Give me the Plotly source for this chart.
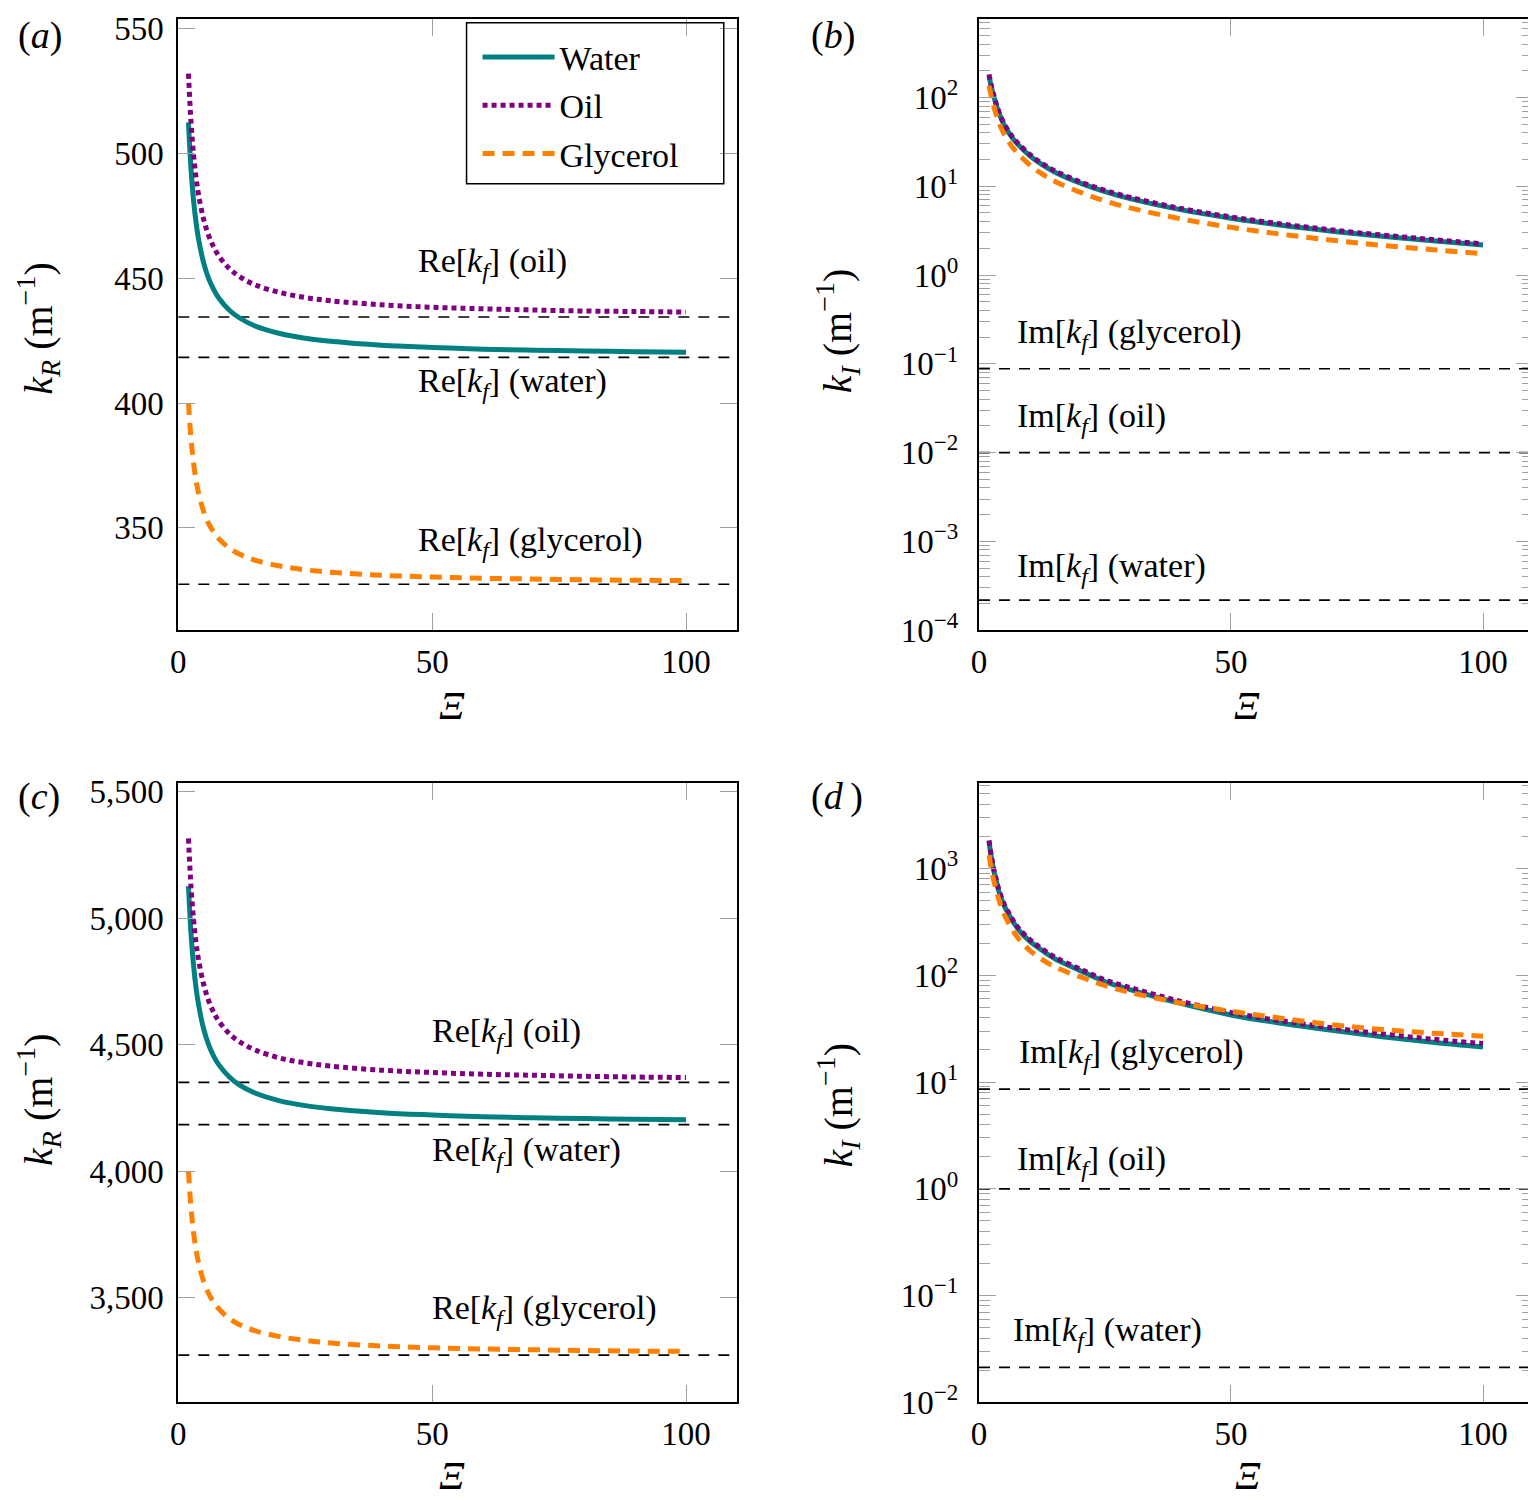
import plotly.graph_objects as go
from plotly.subplots import make_subplots

W, H = 1536, 1501

xi = [2, 2.5, 3, 3.5, 4, 5, 6, 7, 8, 10, 12, 15, 20, 25, 30, 40, 50, 60, 70, 80, 90, 100]

# (a) k_R, lower frequency
kr_water_a = [512.5, 493.7, 481.2, 472.2, 465.5, 456.1, 449.8, 445.4, 442.0, 437.3, 434.2,
              431.0, 427.9, 426.0, 424.8, 423.2, 422.3, 421.6, 421.2, 420.9, 420.6, 420.4]
kr_oil_a = [532.0, 512.5, 499.5, 490.2, 483.3, 473.5, 467.0, 462.4, 458.9, 454.0, 450.8,
            447.5, 444.3, 442.3, 441.0, 439.4, 438.4, 437.8, 437.3, 436.9, 436.7, 436.5]
kr_gly_a = [400.1, 385.6, 375.9, 369.0, 363.8, 356.5, 351.6, 348.2, 345.6, 341.9, 339.5,
            337.1, 334.7, 333.2, 332.2, 331.0, 330.3, 329.8, 329.5, 329.2, 329.0, 328.9]

# (b) k_I, lower frequency
ki_water_b = [175, 128, 100, 80, 66, 49, 39.5, 33, 28.5, 22.3, 18.3,
              14.5, 10.9, 8.7, 7.25, 5.45, 4.37, 3.64, 3.12, 2.73, 2.43, 2.18]
ki_oil_b = [182, 132, 103, 82.5, 68, 50.5, 40.7, 34, 29.4, 23, 18.9,
            15, 11.25, 9.0, 7.5, 5.63, 4.51, 3.76, 3.22, 2.82, 2.51, 2.25]
ki_gly_b = [136, 99, 77, 62, 51, 38.5, 31, 26, 22.5, 17.5, 14.4,
            11.4, 8.6, 6.85, 5.7, 4.3, 3.45, 2.88, 2.47, 2.16, 1.93, 1.74]

# (c) k_R, higher frequency
kr_water_c = [5128, 4939, 4814, 4724, 4657, 4562, 4499, 4454, 4421, 4374, 4342,
              4311, 4279, 4260, 4248, 4232, 4223, 4216, 4212, 4209, 4206, 4204]
kr_oil_c = [5316, 5123, 4995, 4903, 4834, 4738, 4673, 4627, 4593, 4545, 4513,
            4481, 4448, 4429, 4416, 4400, 4391, 4384, 4380, 4376, 4373, 4371]
kr_gly_c = [4000, 3855, 3758, 3689, 3637, 3564, 3516, 3481, 3456, 3419, 3395,
            3371, 3347, 3332, 3322, 3310, 3303, 3298, 3295, 3292, 3290, 3289]

# (d) k_I, higher frequency
ki_water_d = [1775, 1230, 930, 740, 600, 450, 365, 305, 262, 210, 178,
              143, 111, 87, 73.5, 54.5, 42.5, 35.5, 30.5, 26.6, 23.6, 21.3]
ki_oil_d = [1830, 1270, 960, 765, 620, 465, 377, 315, 271, 218, 184,
            148, 115, 90.5, 76.5, 57, 44.7, 37.4, 32.2, 28.2, 25.2, 22.9]
ki_gly_d = [1330, 960, 750, 610, 500, 372, 300, 250, 216, 172, 146,
            120, 97, 80, 69, 55, 46, 39.6, 34.5, 31.0, 28.7, 26.8]

# k_f of each fluid (water, oil, glycerol)
re_kf_a = [418.3, 434.5, 327.4]
im_kf_b = [2.18e-4, 0.01, 0.088]
re_kf_c = [4185, 4352, 3274]
im_kf_d = [0.0213, 1.0, 8.6]

fluids = ["Water", "Oil", "Glycerol"]
tags = ["water", "oil", "glycerol"]
colors = ["#008080", "#800080", "#ff8000"]
dashes = ["solid", "5px,4px", "12px,8px"]

FONT = "Liberation Serif"
TICKGRAY = "#a0a0a0"

# the photographed page comes out shifted and slightly shrunk,
# so pixel targets are mapped back through that
AX, BX = 0.994, 14.8
AY, BY = 0.983, 15.2


def px_x(p):
    return (p - BX) / AX / W


def px_y(p):
    return 1 - (p - BY) / AY / H


fig = make_subplots(rows=2, cols=2)

panels = [
    (1, 1, [kr_water_a, kr_oil_a, kr_gly_a]),
    (1, 2, [ki_water_b, ki_oil_b, ki_gly_b]),
    (2, 1, [kr_water_c, kr_oil_c, kr_gly_c]),
    (2, 2, [ki_water_d, ki_oil_d, ki_gly_d]),
]
for row, col, series in panels:
    for i, ys in enumerate(series):
        fig.add_trace(go.Scatter(
            x=xi, y=ys, mode="lines", name=fluids[i],
            line=dict(color=colors[i], width=5, dash=dashes[i], shape="spline"),
            showlegend=(row == 1 and col == 1), legendgroup=fluids[i]),
            row=row, col=col)

hl = dict(color="black", width=1.7, dash="11px,9px")
for row, col, vals in [(1, 1, re_kf_a), (1, 2, im_kf_b), (2, 1, re_kf_c), (2, 2, im_kf_d)]:
    for v in vals:
        fig.add_hline(y=v, row=row, col=col, line=hl, layer="below")

xdom = {1: [px_x(177), px_x(735)], 2: [px_x(977), px_x(1531)]}
ydom = {1: [px_y(630), px_y(18)], 2: [px_y(1403), px_y(783)]}

tickfont = dict(family=FONT, size=33, color="black")
for row in (1, 2):
    for col in (1, 2):
        fig.update_xaxes(domain=xdom[col], range=[0, 110], tickvals=[0, 50, 100],
                         ticks="inside", ticklen=17, tickcolor=TICKGRAY, tickwidth=1,
                         showline=True, linecolor="black", linewidth=2, mirror="ticks",
                         showgrid=False, zeroline=False, tickfont=tickfont,
                         ticklabelstandoff=1, ticklabeloverflow="allow", row=row, col=col)
        fig.update_yaxes(domain=ydom[row], ticks="inside", ticklen=17, tickcolor=TICKGRAY,
                         tickwidth=1, showline=True, linecolor="black", linewidth=2,
                         mirror="ticks", showgrid=False, zeroline=False, tickfont=tickfont,
                         ticklabelstandoff=6, ticklabeloverflow="allow", row=row, col=col)

fig.update_yaxes(range=[309, 554], tickvals=[350, 400, 450, 500, 550], row=1, col=1)
fig.update_yaxes(range=[3087, 5535], tickvals=[3500, 4000, 4500, 5000, 5500],
                 tickformat=",d", row=2, col=1)


def log_labels(lo, hi):
    vals = [10.0 ** e for e in range(lo, hi + 1)]
    text = ["10<sup>%s</sup>" % (str(e).replace("-", "\u2212")) for e in range(lo, hi + 1)]
    minor = [m * 10.0 ** e for e in range(lo, hi + 1) for m in range(2, 10)]
    return vals, text, minor


for row, lo, hi, rng in [(1, -4, 2, [-4, 2.886]), (2, -2, 3, [-2, 3.8])]:
    vals, text, minor = log_labels(lo, hi)
    fig.update_yaxes(type="log", range=rng, tickvals=vals, ticktext=text,
                     ticklabelstandoff=12,
                     minor=dict(tickmode="array", tickvals=minor, ticks="inside",
                                ticklen=11, tickcolor=TICKGRAY, tickwidth=1),
                     row=row, col=2)

annots = []


def add_text(text, x, y, xanchor="left", size=34, angle=0):
    annots.append(dict(text=text, x=px_x(x), y=px_y(y), xref="paper", yref="paper",
                       xanchor=xanchor, yanchor="middle", showarrow=False, textangle=angle,
                       font=dict(family=FONT, size=size, color="black")))


kf = "[<i>k</i><sub><i>f</i></sub>]"
for tag, y in zip(tags, [383, 262, 542]):
    add_text("Re" + kf + " (" + tag + ")", 414, y)
for tag, y in zip(tags, [1152, 1033, 1311]):
    add_text("Re" + kf + " (" + tag + ")", 428, y)
for tag, x, y in zip(tags, [1013, 1013, 1013], [568, 418, 334]):
    add_text("Im" + kf + " (" + tag + ")", x, y)
for tag, x, y in zip(tags, [1009, 1013, 1015], [1333, 1161, 1054]):
    add_text("Im" + kf + " (" + tag + ")", x, y)

add_text("(<i>a</i>)", 15, 35, size=38)
add_text("(<i>b</i>)", 807, 35, size=38)
add_text("(<i>c</i>)", 15, 796, size=38)
add_text("(<i>d</i>\u2009)", 807, 796, size=38)

kr_title = "<i>k</i><sub><i>R</i></sub> (m<sup>\u22121</sup>)"
ki_title = "<i>k</i><sub><i>I</i></sub> (m<sup>\u22121</sup>)"
add_text(kr_title, 37, 328, xanchor="center", size=40, angle=-90)
add_text(ki_title, 836, 330, xanchor="center", size=40, angle=-90)
add_text(kr_title, 37, 1100, xanchor="center", size=40, angle=-90)
add_text(ki_title, 836, 1105, xanchor="center", size=40, angle=-90)

for x, y in [(450, 705), (1245, 705), (450, 1476), (1246, 1476)]:
    add_text("<i>\u039e</i>", x, y, xanchor="center", size=40)

fig.add_shape(type="rect", xref="paper", yref="paper",
              x0=px_x(465), x1=px_x(722), y0=px_y(183), y1=px_y(22),
              line=dict(color="black", width=1.5), fillcolor="rgba(0,0,0,0)")

fig.update_layout(
    width=W, height=H,
    margin=dict(l=0, r=0, t=0, b=0),
    paper_bgcolor="white", plot_bgcolor="white",
    font=dict(family=FONT, color="black"),
    annotations=annots,
    legend=dict(x=px_x(476), y=px_y(27.6), xanchor="left", yanchor="top",
                font=dict(family=FONT, size=34, color="black"),
                bgcolor="rgba(0,0,0,0)", borderwidth=0,
                itemwidth=72, tracegroupgap=1),
)

fig.write_html("out.html")
